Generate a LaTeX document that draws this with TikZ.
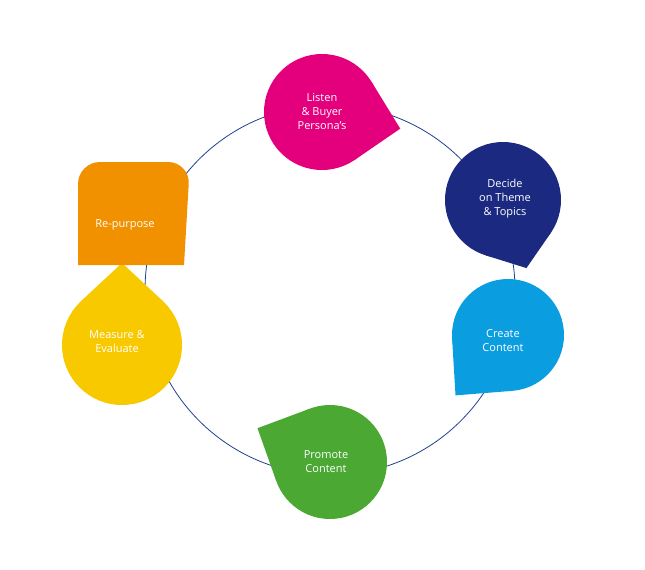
\documentclass[tikz,border=0pt]{standalone}
\usepackage{fontspec}
\setmainfont{Open Sans}
\definecolor{cpink}{HTML}{E4007C}
\definecolor{cnavy}{HTML}{1B2A80}
\definecolor{cblue}{HTML}{0A9DE0}
\definecolor{cgreen}{HTML}{4AA833}
\definecolor{cyellow}{HTML}{F9C900}
\definecolor{corange}{HTML}{F29100}
\definecolor{cline}{HTML}{1F3F8F}
\tikzset{lbl/.style={text=white,align=center,font=\fontsize{11}{14}\selectfont}}
\newcommand{\tear}[5]{% center, r, angle, d, color
  \fill[#5] #1 circle (#2);
  \fill[#5] ($#1+(#3:#4)$) -- ($#1+({#3+acos(#2/#4)}:#2)$) -- #1 -- ($#1+({#3-acos(#2/#4)}:#2)$) -- cycle;
}
\usetikzlibrary{calc}
\begin{document}
\begin{tikzpicture}[x=1pt,y=-1pt]
\useasboundingbox (0,0) rectangle (645,570);
\node[circle,draw=cline,line width=0.8pt,minimum size=370pt] (ring) at (330,290) {};
\tear{(322,112)}{58}{12}{80}{cpink}
\tear{(503,200)}{58}{71}{72}{cnavy}
\tear{(508,335)}{56}{131}{80}{cblue}
\tear{(330,462)}{57}{205}{80}{cgreen}
\tear{(122,345)}{60}{270}{82}{cyellow}
\fill[corange,rounded corners=22pt] (78,265) -- (78,162) -- (190,162) [sharp corners] -- (184,265) -- cycle;
\node[lbl] (listen) at (322,112) {Listen\\\& Buyer\\Persona's};
\node[lbl] (decide) at (505,199) {Decide\\on Theme\\\& Topics};
\node[lbl] (create) at (503,341) {Create\\Content};
\node[lbl] (promote) at (326,462) {Promote\\Content};
\node[lbl] (measure) at (117,342) {Measure \&\\Evaluate};
\node[lbl] (repurpose) at (125,225) {Re-purpose};
\end{tikzpicture}
\end{document}
